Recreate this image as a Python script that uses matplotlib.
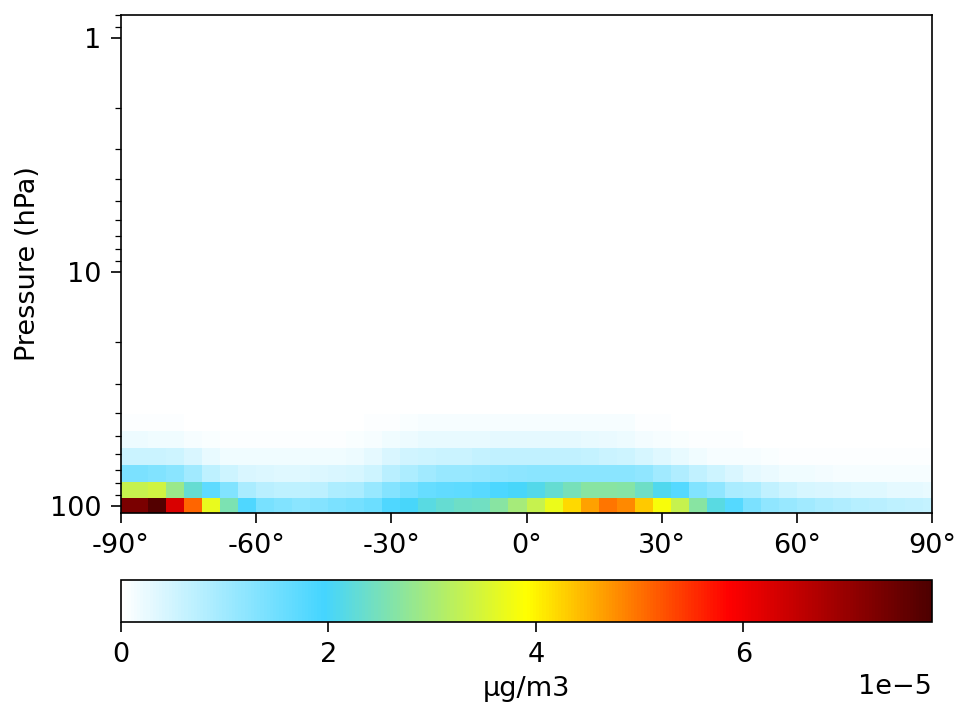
import numpy as np
import matplotlib
matplotlib.use("Agg")
import matplotlib.pyplot as plt
import matplotlib.ticker as ticker
from matplotlib.colors import LinearSegmentedColormap

# latitude cell centres (deg) and pressure cell edges (hPa, bottom to top)
lat_centres = np.arange(-90, 91, 4)
pressure_edges = [107.0, 92.4, 78.9, 66.8, 56.5, 47.8, 40.4, 34.2]

# concentration, units of 1e-5 ug/m3, one list per level (bottom up)
level_0 = [7.32, 7.32, 7.73, 6.29, 5.08, 3.67, 2.56, 1.85, 1.42, 1.34, 1.25, 1.30,
           1.40, 1.45, 1.55, 1.85, 2.00, 2.19, 2.32, 2.39, 2.44, 2.67, 2.99, 3.30,
           3.72, 4.21, 4.64, 4.95, 4.82, 4.33, 3.83, 3.30, 2.67, 2.19, 1.78, 1.38,
           1.17, 1.08, 1.00, 0.91, 0.85, 0.79, 0.75, 0.70, 0.66, 0.62]
level_1 = [3.30, 3.30, 3.42, 2.87, 2.32, 1.71, 1.34, 0.91, 0.75, 0.70, 0.70, 0.72,
           0.87, 0.90, 1.08, 1.30, 1.45, 1.60, 1.65, 1.70, 1.75, 1.88, 2.00, 2.12,
           2.32, 2.50, 2.67, 2.67, 2.63, 2.39, 2.10, 1.80, 1.34, 1.17, 0.90, 0.87,
           0.66, 0.52, 0.45, 0.42, 0.38, 0.34, 0.34, 0.30, 0.30, 0.25]
level_2 = [1.38, 1.38, 1.34, 1.25, 1.00, 0.70, 0.52, 0.42, 0.38, 0.34, 0.34, 0.38,
           0.42, 0.45, 0.54, 0.75, 0.87, 1.00, 1.08, 1.08, 1.12, 1.17, 1.20, 1.25,
           1.25, 1.25, 1.25, 1.25, 1.25, 1.17, 1.00, 0.84, 0.66, 0.54, 0.42, 0.30,
           0.23, 0.17, 0.16, 0.14, 0.12, 0.12, 0.12, 0.12, 0.12, 0.12]
level_3 = [0.58, 0.58, 0.58, 0.54, 0.42, 0.25, 0.17, 0.17, 0.18, 0.18, 0.18, 0.18,
           0.17, 0.20, 0.30, 0.42, 0.50, 0.54, 0.58, 0.58, 0.62, 0.66, 0.66, 0.66,
           0.66, 0.66, 0.62, 0.58, 0.54, 0.45, 0.34, 0.25, 0.17, 0.12, 0.10, 0.10,
           0.08, 0.05, 0.05, 0.05, 0.05, 0.05, 0.05, 0.05, 0.05, 0.05]
level_4 = [0.20, 0.20, 0.18, 0.17, 0.12, 0.08, 0.05, 0.05, 0.05, 0.05, 0.05, 0.05,
           0.05, 0.08, 0.12, 0.18, 0.20, 0.25, 0.25, 0.25, 0.25, 0.30, 0.30, 0.30,
           0.30, 0.30, 0.25, 0.23, 0.20, 0.14, 0.12, 0.08, 0.05, 0.05, 0.04, 0.03,
           0.01, 0.01, 0.01, 0.01, 0.01, 0.01, 0.01, 0.01, 0.01, 0.01]
level_5 = [0.05, 0.05, 0.06, 0.06, 0.03, 0.01, 0.01, 0.01, 0.01, 0.01, 0.01, 0.01,
           0.02, 0.03, 0.04, 0.06, 0.08, 0.10, 0.10, 0.10, 0.10, 0.10, 0.10, 0.10,
           0.10, 0.10, 0.10, 0.10, 0.10, 0.06, 0.04, 0.02, 0.02, 0.02, 0.02, 0.02,
           0.00, 0.00, 0.00, 0.00, 0.00, 0.00, 0.00, 0.00, 0.00, 0.00]
level_6 = [0.00, 0.00, 0.00, 0.00, 0.00, 0.00, 0.00, 0.00, 0.00, 0.00, 0.00, 0.00,
           0.00, 0.00, 0.00, 0.00, 0.02, 0.02, 0.02, 0.02, 0.02, 0.02, 0.02, 0.02,
           0.02, 0.02, 0.02, 0.02, 0.02, 0.02, 0.02, 0.00, 0.00, 0.00, 0.00, 0.00,
           0.00, 0.00, 0.00, 0.00, 0.00, 0.00, 0.00, 0.00, 0.00, 0.00]

x_ticks = [-90, -60, -30, 0, 30, 60, 90]
x_tick_labels = ['-90°', '-60°', '-30°', '0°', '30°', '60°', '90°']
y_ticks = [1, 10, 100]
y_tick_labels = ['1', '10', '100']
cbar_ticks = [0, 2e-5, 4e-5, 6e-5]
vmax = 7.82e-5

conc = np.array([level_0, level_1, level_2, level_3, level_4, level_5, level_6]) * 1e-5

# slightly bigger text and ticks than the defaults
plt.rcParams['font.size'] = 13
plt.rcParams['xtick.major.size'] = 5
plt.rcParams['ytick.major.size'] = 5
plt.rcParams['xtick.minor.size'] = 2.8
plt.rcParams['ytick.minor.size'] = 2.8
plt.rcParams['xtick.major.pad'] = 4.5
plt.rcParams['ytick.major.pad'] = 4.5

# white -> sky blue -> yellow -> red -> dark red
cmap = LinearSegmentedColormap.from_list(
    'conc', [(0.0, '#ffffff'), (0.25, '#44d5ff'), (0.5, '#ffff00'),
             (0.75, '#ff0000'), (1.0, '#4d0000')])

lat_edges = np.concatenate([lat_centres - 2, [lat_centres[-1] + 2]])

fig = plt.figure(figsize=(957 / 150, 703 / 150), dpi=150)
ax = fig.add_axes([121 / 957, 1 - 513 / 703, 811 / 957, 498 / 703])
cax = fig.add_axes([121 / 957, 1 - 622 / 703, 811 / 957, 42 / 703])

mesh = ax.pcolormesh(lat_edges, pressure_edges, conc, cmap=cmap,
                     vmin=0, vmax=vmax, shading='flat')

ax.set_yscale('log')
ax.set_ylim(107, 0.8)
ax.set_xlim(-90, 90)
ax.set_yticks(y_ticks)
ax.set_yticklabels(y_tick_labels)
ax.yaxis.set_minor_formatter(ticker.NullFormatter())
ax.set_xticks(x_ticks)
ax.set_xticklabels(x_tick_labels)
ax.set_ylabel('Pressure (hPa)')

cb = fig.colorbar(mesh, cax=cax, orientation='horizontal', ticks=cbar_ticks)
cb.set_label('µg/m3')

fig.savefig('out.png', dpi=150)
